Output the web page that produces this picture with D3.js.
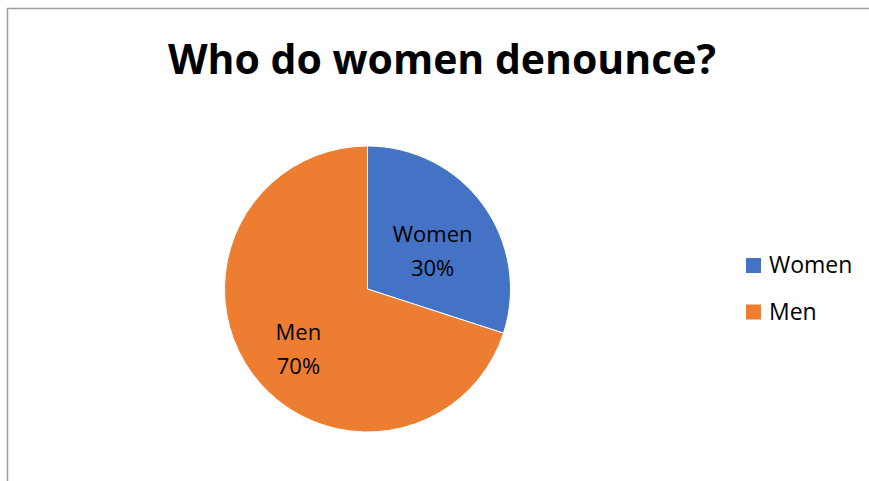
<!DOCTYPE html>
<html>
<head>
<meta charset="utf-8">
<script src="https://cdn.jsdelivr.net/npm/d3@7"></script>
<style>
  body { margin: 0; background: #ffffff; }
  svg { display: block; font-family: "Open Sans", sans-serif; }
</style>
</head>
<body>
<svg width="869" height="481"></svg>
<script>
// pie chart data: who do women denounce
const categories = ["Women", "Men"];
const values = [30, 70];
const colors = ["#4472c4", "#ed7d31"];

const svg = d3.select("svg");

// resize a text so it spans about the given width (original is Calibri)
function fitWidth(sel, w) {
  const fs = parseFloat(sel.style("font-size"));
  const cur = sel.node().getComputedTextLength();
  sel.style("font-size", (fs * w / cur).toFixed(2) + "px");
}

// chart frame (only left and top edges show in the window)
svg.append("rect")
  .attr("x", 7.5).attr("y", 8.5)
  .attr("width", 900).attr("height", 500)
  .attr("fill", "none")
  .attr("stroke", "#a0a0a0")
  .attr("stroke-width", 1.5);

// title
const title = svg.append("text")
  .attr("x", 442).attr("y", 74)
  .attr("text-anchor", "middle")
  .style("font-weight", "700")
  .style("font-size", "40px")
  .style("fill", "#000000")
  .text("Who do women denounce?");
fitWidth(title, 548);

// pie
const cx = 367.5, cy = 289, r = 143;
const g = svg.append("g").attr("transform", `translate(${cx},${cy})`);

const pie = d3.pie().sort(null).value((d) => d);
const arc = d3.arc().innerRadius(0).outerRadius(r);
const arcL = d3.arc().innerRadius(r * 0.58).outerRadius(r * 0.58);

const slices = pie(values);

g.selectAll("path")
  .data(slices)
  .enter()
  .append("path")
  .attr("d", arc)
  .attr("fill", (d, i) => colors[i])
  .attr("stroke", "#ffffff")
  .attr("stroke-width", 1);

// slice labels: category and percentage
const total = d3.sum(values);
const labels = g.selectAll(".lbl")
  .data(slices)
  .enter()
  .append("text")
  .attr("class", "lbl")
  .attr("transform", (d) => {
    const c = arcL.centroid(d);
    return `translate(${c[0] - 2},${c[1] + 10})`;
  })
  .attr("text-anchor", "middle")
  .style("font-size", "22px")
  .style("fill", "#000000");
labels.append("tspan")
  .attr("x", 0).attr("y", -8)
  .text((d, i) => categories[i]);
labels.append("tspan")
  .attr("x", 0).attr("y", 26)
  .text((d) => Math.round(d.value / total * 100) + "%");

// legend
const legend = svg.append("g").attr("transform", "translate(746,258)");
const items = legend.selectAll("g")
  .data(categories)
  .enter()
  .append("g")
  .attr("transform", (d, i) => `translate(0,${i * 46.5})`);
items.append("rect")
  .attr("width", 15).attr("height", 15)
  .attr("fill", (d, i) => colors[i]);
items.append("text")
  .attr("x", 23).attr("y", 15)
  .style("font-size", "23px")
  .style("fill", "#000000")
  .text((d) => d);
</script>
</body>
</html>
